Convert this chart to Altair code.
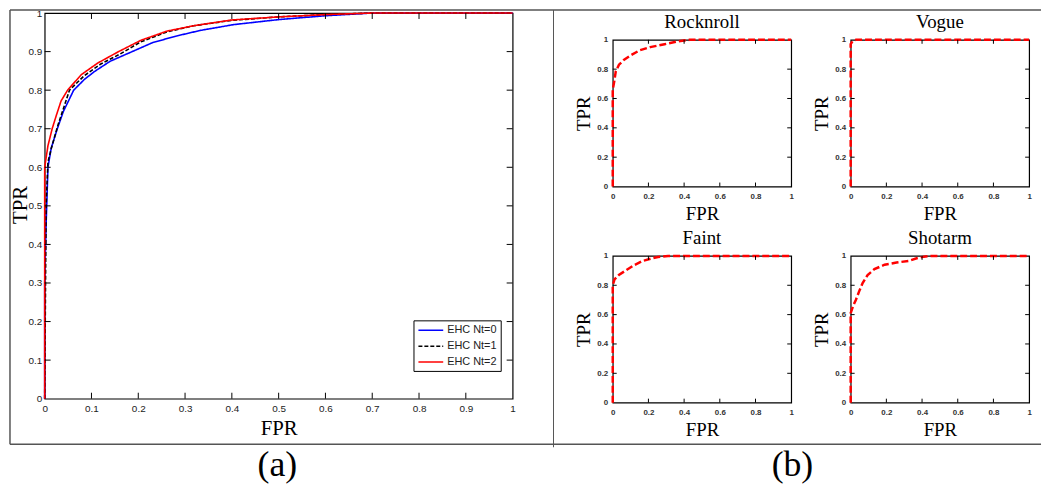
import altair as alt
import pandas as pd

# ---------------- data ----------------
series_names = ["EHC Nt=0", "EHC Nt=1", "EHC Nt=2"]

nt0_fpr = [0, 0, 0.003, 0.007, 0.014, 0.027, 0.04, 0.062, 0.085, 0.106, 0.14, 0.187, 0.23, 0.28, 0.333, 0.404, 0.50, 0.60, 0.70, 1.0]
nt0_tpr = [0, 0.30, 0.45, 0.60, 0.65, 0.70, 0.745, 0.80, 0.828, 0.848, 0.875, 0.90, 0.923, 0.94, 0.955, 0.97, 0.983, 0.993, 1.0, 1.0]

nt1_fpr = [0, 0.003, 0.007, 0.014, 0.028, 0.053, 0.085, 0.12, 0.16, 0.205, 0.261, 0.318, 0.40, 0.50, 0.60, 0.70, 1.0]
nt1_tpr = [0, 0.50, 0.614, 0.648, 0.708, 0.80, 0.838, 0.868, 0.893, 0.925, 0.951, 0.967, 0.981, 0.990, 0.996, 1.0, 1.0]

nt2_fpr = [0, 0, 0.007, 0.016, 0.025, 0.035, 0.049, 0.078, 0.113, 0.158, 0.205, 0.261, 0.318, 0.40, 0.50, 0.60, 0.70, 1.0]
nt2_tpr = [0, 0.60, 0.656, 0.70, 0.735, 0.772, 0.80, 0.84, 0.87, 0.90, 0.929, 0.953, 0.967, 0.982, 0.990, 0.996, 1.0, 1.0]

a_tick_values = [0.1, 0.2, 0.3, 0.4, 0.5, 0.6, 0.7, 0.8, 0.9]
a_label_values = [0, 0.1, 0.2, 0.3, 0.4, 0.5, 0.6, 0.7, 0.8, 0.9, 1]
b_tick_values = [0.2, 0.4, 0.6, 0.8]
b_label_values = [0, 0.2, 0.4, 0.6, 0.8, 1]

panel_names = ["Rocknroll", "Vogue", "Faint", "Shotarm"]
rock_fpr = [0, 0, 0.009, 0.017, 0.035, 0.064, 0.10, 0.15, 0.21, 0.29, 0.36, 0.43, 1.0]
rock_tpr = [0, 0.66, 0.72, 0.785, 0.83, 0.865, 0.894, 0.928, 0.95, 0.97, 0.988, 1.0, 1.0]
vogue_fpr = [0, 0, 0.01, 0.03, 1.0]
vogue_tpr = [0, 0.97, 0.99, 1.0, 1.0]
faint_fpr = [0, 0, 0.01, 0.034, 0.072, 0.12, 0.168, 0.215, 0.253, 0.31, 1.0]
faint_tpr = [0, 0.80, 0.84, 0.87, 0.90, 0.937, 0.966, 0.982, 0.993, 1.0, 1.0]
shot_fpr = [0, 0, 0.013, 0.029, 0.048, 0.067, 0.095, 0.133, 0.19, 0.257, 0.324, 0.37, 0.41, 0.45, 1.0]
shot_tpr = [0, 0.61, 0.657, 0.70, 0.76, 0.815, 0.87, 0.91, 0.94, 0.955, 0.966, 0.984, 0.995, 1.0, 1.0]

captions = ["(a)", "(b)"]

# ---------------- style ----------------
SERIF = "Liberation Serif"
SANS = "Liberation Sans"
NARROW = "'Liberation Sans Narrow', 'Liberation Sans', sans-serif"

AW, AH = 472, 389
BW, BH = 180, 148


def tick_layers(values, W, H, L, xs, ys):
    tdf = pd.DataFrame({"t": values})
    base = alt.Chart(tdf).mark_rule(color="black", strokeWidth=1)
    bx = alt.X("t:Q", scale=xs, axis=None)
    by = alt.Y("t:Q", scale=ys, axis=None)
    return [
        base.encode(x=bx, y=alt.value(H), y2=alt.value(H - L)),
        base.encode(x=bx, y=alt.value(0), y2=alt.value(L)),
        base.encode(y=by, x=alt.value(0), x2=alt.value(L)),
        base.encode(y=by, x=alt.value(W), x2=alt.value(W - L)),
    ]


# ---------------- panel (a) ----------------
rows = []
for name, fx, ty in zip(series_names, [nt0_fpr, nt1_fpr, nt2_fpr], [nt0_tpr, nt1_tpr, nt2_tpr]):
    for i, (a, b) in enumerate(zip(fx, ty)):
        rows.append({"series": name, "FPR": a, "TPR": b, "idx": i})
df_a = pd.DataFrame(rows)

xs_a = alt.Scale(domain=[0, 1], nice=False)
ys_a = alt.Scale(domain=[0, 1], nice=False)

legend_a = alt.Legend(
    orient="none", legendX=372, legendY=310, title=None,
    strokeColor="black", fillColor="white", padding=4,
    labelFont=NARROW, labelFontSize=11, labelColor="#222",
    symbolType="M-1,0L4,0", symbolSize=100, symbolStrokeWidth=1.5,
    labelOffset=18, rowPadding=5,
)

lines_a = alt.Chart(df_a).mark_line(strokeWidth=1.6).encode(
    x=alt.X("FPR:Q", scale=xs_a, axis=alt.Axis(
        values=a_label_values, format="~g", ticks=False, domain=False, grid=False,
        labelFlush=False, labelOverlap=False, labelPadding=5,
        labelFont=SANS, labelFontSize=10, labelColor="#222",
        title="FPR", titleFont=SERIF, titleFontSize=21, titleFontWeight="normal",
        titleColor="black", titleBaseline="alphabetic", titleY=36.5, titleX=AW / 2)),
    y=alt.Y("TPR:Q", scale=ys_a, axis=alt.Axis(
        values=a_label_values, format="~g", ticks=False, domain=False, grid=False,
        labelFlush=False, labelOverlap=False, labelPadding=3,
        labelFont=SANS, labelFontSize=10, labelColor="#222",
        title="TPR", titleFont=SERIF, titleFontSize=21, titleFontWeight="normal",
        titleColor="black", titleBaseline="alphabetic", titleX=-18.5, titleY=193, titleAngle=270)),
    color=alt.Color("series:N", scale=alt.Scale(domain=series_names, range=["#0000ff", "#000000", "#ff0000"]), legend=legend_a),
    strokeDash=alt.StrokeDash("series:N", scale=alt.Scale(domain=series_names, range=[[1, 0], [4, 2], [1, 0]]), legend=legend_a),
    order=alt.Order("idx:Q"),
)

one = pd.DataFrame({"k": [0]})
FT, FB = -3, 435
frame_style = dict(color="#555555", strokeWidth=1.5)
frame_top = alt.Chart(one).mark_rule(**frame_style).encode(x=alt.value(-35), x2=alt.value(1005), y=alt.value(FT))
frame_bottom = alt.Chart(one).mark_rule(**frame_style).encode(x=alt.value(-35), x2=alt.value(1005), y=alt.value(FB))
frame_left = alt.Chart(one).mark_rule(**frame_style).encode(x=alt.value(-35), y=alt.value(FT), y2=alt.value(FB))
frame_div = alt.Chart(one).mark_rule(color="#555555", strokeWidth=1).encode(x=alt.value(513.25), y=alt.value(FT), y2=alt.value(FB + 3))

cap_style = dict(font=SERIF, fontSize=36, align="center", baseline="alphabetic", color="black")
cap_a = alt.Chart(one).mark_text(**cap_style).encode(x=alt.value(234.75), y=alt.value(467), text=alt.value(captions[0]))
cap_b = alt.Chart(one).mark_text(**cap_style).encode(x=alt.value(754.25), y=alt.value(467), text=alt.value(captions[1]))

panel_a = alt.layer(
    lines_a, *tick_layers(a_tick_values, AW, AH, 6, xs_a, ys_a),
    frame_top, frame_bottom, frame_left, frame_div, cap_a, cap_b,
).resolve_axis(x="independent", y="independent").properties(width=AW, height=AH)


# ---------------- panel (b) ----------------
def small_panel(title, fpr, tpr):
    df = pd.DataFrame({"FPR": fpr, "TPR": tpr, "idx": list(range(len(fpr)))})
    xs = alt.Scale(domain=[0, 1], nice=False)
    ys = alt.Scale(domain=[0, 1], nice=False)
    common = dict(values=b_label_values, format="~g", ticks=False, domain=False, grid=False,
                  labelFlush=False, labelOverlap=False,
                  labelFont=SANS, labelFontSize=8, labelFontWeight="bold", labelColor="#333",
                  titleFont=SERIF, titleFontSize=19, titleFontWeight="normal",
                  titleColor="black", titleBaseline="alphabetic")
    line = alt.Chart(df).mark_line(color="#ff0000", strokeWidth=2.5, strokeDash=[7, 3]).encode(
        x=alt.X("FPR:Q", scale=xs, axis=alt.Axis(title="FPR", labelPadding=6, titleY=33, titleX=BW / 2, **common)),
        y=alt.Y("TPR:Q", scale=ys, axis=alt.Axis(title="TPR", labelPadding=5, titleX=-23, titleY=BH / 2, titleAngle=270, **common)),
        order=alt.Order("idx:Q"),
    )
    return alt.layer(line, *tick_layers(b_tick_values, BW, BH, 4, xs, ys)).resolve_axis(
        x="independent", y="independent"
    ).properties(
        width=BW, height=BH,
        title=alt.TitleParams(text=title, font=SERIF, fontSize=19, fontWeight="normal",
                              color="black", anchor="middle", offset=3, frame="group"),
    )


p_rock = small_panel(panel_names[0], rock_fpr, rock_tpr)
p_vogue = small_panel(panel_names[1], vogue_fpr, vogue_tpr)
p_faint = small_panel(panel_names[2], faint_fpr, faint_tpr)
p_shot = small_panel(panel_names[3], shot_fpr, shot_tpr)

grid_b = alt.concat(p_rock, p_vogue, p_faint, p_shot, columns=2,
                    spacing={"row": 70, "column": 60}, bounds="flush")

spacer = alt.Chart(one).mark_point(opacity=0, size=1).encode(x=alt.value(0), y=alt.value(10)).properties(
    width=1, height=26.7, view=alt.ViewBackground(strokeOpacity=0))

panel_b = alt.vconcat(spacer, grid_b, spacing=0, bounds="flush")

chart = alt.hconcat(panel_a, panel_b, spacing=101, bounds="flush").properties(
    padding={"left": 0, "top": -3, "right": 0, "bottom": 0}
).configure_view(stroke="black", strokeWidth=1.2).configure_axis(grid=False)

chart.save("out.html", embed_options={"renderer": "svg", "actions": False})
